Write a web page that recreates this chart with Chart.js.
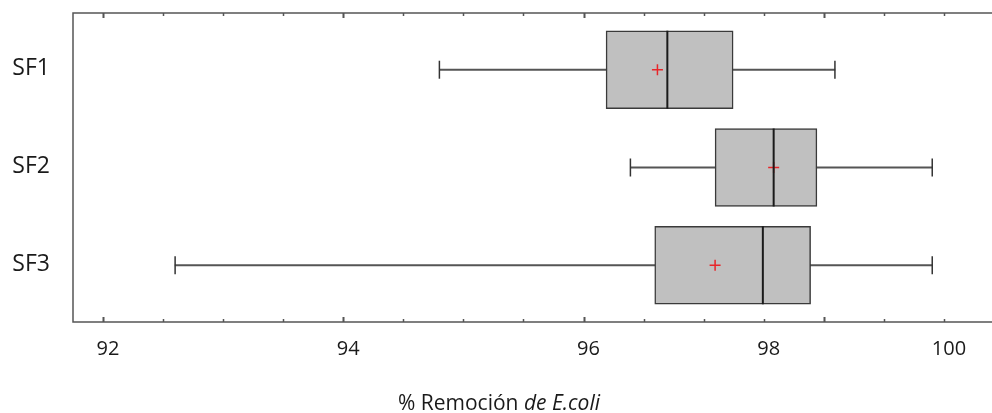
<!DOCTYPE html>
<html>
<head>
<meta charset="utf-8">
<script src="https://cdn.jsdelivr.net/npm/chart.js@4.4.1/dist/chart.umd.min.js"></script>
<style>
  html, body { margin: 0; padding: 0; background: #fff; }
  #wrap { position: relative; width: 992px; height: 413px; }
  #xtitle {
    position: absolute; left: 499px; top: 388px; transform: translateX(-50%);
    white-space: nowrap; font: 21px 'Open Sans', sans-serif; color: #1a1a1a;
  }
</style>
</head>
<body>
<div id="wrap">
  <canvas id="boxChart"></canvas>
  <div id="xtitle">% Remoción <i>de E.coli</i></div>
</div>
<script>
// Box plot values
const categories = ["SF1", "SF2", "SF3"];
const minimum = [94.80, 96.52, 92.60];
const q1 = [96.25, 97.46, 96.79];
const median = [96.93, 98.11, 97.99];
const q3 = [97.66, 98.59, 98.52];
const maximum = [98.79, 99.87, 99.87];
const mean = [96.82, 98.11, 97.46];
const tickLabels = [92, 94, 96, 98, 100];

// The printed axis is not uniform: labels sit on tick steps 0, 4, 8, 11, 14
const labelSteps = [0, 4, 8, 11, 14];
const STEP_MIN = -0.5, STEP_MAX = 14.8;

function toStep(v) {
  let i = 0;
  while (i < tickLabels.length - 2 && v > tickLabels[i + 1]) i++;
  const t = (v - tickLabels[i]) / (tickLabels[i + 1] - tickLabels[i]);
  return labelSteps[i] + t * (labelSteps[i + 1] - labelSteps[i]);
}

function fromStep(s) {
  let i = 0;
  while (i < labelSteps.length - 2 && s > labelSteps[i + 1]) i++;
  const t = (s - labelSteps[i]) / (labelSteps[i + 1] - labelSteps[i]);
  return tickLabels[i] + t * (tickLabels[i + 1] - tickLabels[i]);
}

class StepScale extends Chart.LinearScale {
  getPixelForValue(value) {
    return this.getPixelForDecimal((toStep(value) - STEP_MIN) / (STEP_MAX - STEP_MIN));
  }
  getValueForPixel(pixel) {
    return fromStep(STEP_MIN + this.getDecimalForPixel(pixel) * (STEP_MAX - STEP_MIN));
  }
}
StepScale.id = "step";
StepScale.defaults = Chart.LinearScale.defaults;
Chart.register(StepScale);

// frame with inward tick marks on top and bottom
const framePlugin = {
  id: "frame",
  afterDraw(chart) {
    const { ctx, chartArea: a, scales: { x } } = chart;
    ctx.save();
    ctx.strokeStyle = "#555";
    ctx.lineWidth = 1.5;
    ctx.beginPath();
    ctx.moveTo(a.right, a.top);
    ctx.lineTo(a.left, a.top);
    ctx.lineTo(a.left, a.bottom);
    ctx.lineTo(a.right, a.bottom);
    ctx.stroke();
    x.ticks.forEach((t, i) => {
      const px = Math.round(x.getPixelForTick(i)) + 0.5;
      const len = i % 4 === 0 ? 5 : 3;
      ctx.lineWidth = i % 4 === 0 ? 2 : 1.5;
      ctx.beginPath();
      ctx.moveTo(px, a.top);
      ctx.lineTo(px, a.top + len);
      ctx.moveTo(px, a.bottom);
      ctx.lineTo(px, a.bottom - len);
      ctx.stroke();
    });
    ctx.restore();
  }
};

const rows = categories.map((c, i) => i + 1);

Chart.defaults.font.family = "'Open Sans', sans-serif";
Chart.defaults.color = "#1a1a1a";

new Chart(document.getElementById("boxChart"), {
  type: "bar",
  data: {
    datasets: [
      {
        // whisker line min..max, hidden under the box in the middle
        type: "bar",
        indexAxis: "y",
        grouped: false,
        order: 5,
        data: rows.map((r, i) => ({ x: [minimum[i], maximum[i]], y: r })),
        barThickness: 1.5,
        backgroundColor: "#555"
      },
      {
        type: "bar",
        indexAxis: "y",
        grouped: false,
        order: 4,
        data: rows.map((r, i) => ({ x: [q1[i], q3[i]], y: r })),
        barThickness: 78,
        backgroundColor: "#c0c0c0",
        borderColor: "#3a3a3a",
        borderWidth: 1.5,
        borderSkipped: false
      },
      {
        // whisker caps
        type: "scatter",
        order: 3,
        data: rows.flatMap((r, i) => [{ x: minimum[i], y: r }, { x: maximum[i], y: r }]),
        pointStyle: "line",
        rotation: 90,
        radius: 9,
        borderWidth: 1.5,
        borderColor: "#333"
      },
      {
        type: "scatter",
        order: 2,
        data: rows.map((r, i) => ({ x: mean[i], y: r })),
        pointStyle: "cross",
        radius: 5.5,
        borderWidth: 1.5,
        borderColor: "#e8262a"
      },
      {
        type: "scatter",
        order: 1,
        data: rows.map((r, i) => ({ x: median[i], y: r })),
        pointStyle: "line",
        rotation: 90,
        radius: 39,
        borderWidth: 2,
        borderColor: "#1a1a1a"
      }
    ]
  },
  options: {
    responsive: true,
    maintainAspectRatio: false,
    animation: false,
    layout: { autoPadding: false, padding: { top: 13, right: 0, bottom: 0, left: 0 } },
    plugins: { legend: { display: false }, tooltip: { enabled: false } },
    elements: { point: { hoverRadius: 0 } },
    scales: {
      x: {
        type: "step",
        position: "bottom",
        offset: false,
        min: fromStep(STEP_MIN),
        max: fromStep(STEP_MAX),
        grid: { display: false },
        border: { display: false },
        afterBuildTicks: axis => {
          axis.ticks = [];
          for (let s = 0; s <= 14; s++) axis.ticks.push({ value: fromStep(s) });
        },
        afterFit: axis => {
          axis.height = 91;
          axis.paddingLeft = 0;
          axis.paddingRight = 0;
        },
        ticks: {
          autoSkip: false,
          maxRotation: 0,
          padding: 7,
          labelOffset: 5,
          font: { size: 20 },
          callback: v => {
            const m = tickLabels.find(l => Math.abs(l - v) < 1e-6);
            return m === undefined ? "" : String(m);
          }
        }
      },
      y: {
        type: "linear",
        reverse: true,
        offset: false,
        min: 0.42,
        max: 3.58,
        grid: { display: false },
        border: { display: false },
        afterBuildTicks: axis => {
          axis.ticks = rows.map(r => ({ value: r }));
        },
        afterFit: axis => {
          axis.width = 73;
          axis.paddingTop = 0;
          axis.paddingBottom = 0;
        },
        ticks: {
          padding: 15,
          labelOffset: -1,
          font: { size: 23 },
          callback: v => categories[v - 1]
        }
      }
    }
  },
  plugins: [framePlugin]
});
</script>
</body>
</html>
